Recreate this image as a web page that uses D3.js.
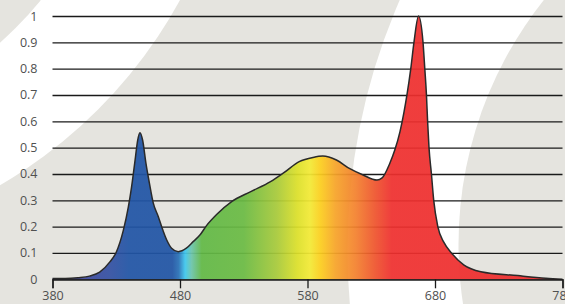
<!DOCTYPE html>
<html>
<head>
<meta charset="utf-8">
<script src="https://cdn.jsdelivr.net/npm/d3@7"></script>
<style>
  html, body { margin: 0; padding: 0; background: #e5e4df; }
  svg { display: block; }
</style>
</head>
<body>
<div id="chart"></div>
<script>
// spectrum (wavelength in nm, relative intensity)
var wavelengths = [380, 390, 400, 409, 417, 425, 430, 435.5, 439.5, 442, 444.7, 446.8, 448.6, 450.7,
  453.3, 456, 459, 463, 465.6, 469.5, 473.4, 478.6, 485, 490.3, 495.6, 500.8, 508.7, 520.5,
  535.5, 551, 561.5, 573.5, 584.4, 592, 602.7, 613.2, 623.6, 634.5, 638.5, 644.5, 648.4, 652.5,
  655.5, 658, 661, 663.5, 667.1, 670.6, 672, 673.3, 674.2, 675.3, 677.2, 679, 682.2, 687,
  692.9, 702.5, 716, 745, 767, 780];
var values = [0.003, 0.003, 0.006, 0.012, 0.027, 0.066, 0.103, 0.185, 0.275, 0.35, 0.45, 0.528, 0.557, 0.528,
  0.44, 0.365, 0.29, 0.238, 0.2, 0.15, 0.118, 0.105, 0.118, 0.143, 0.168, 0.204, 0.246, 0.295,
  0.333, 0.371, 0.405, 0.447, 0.463, 0.468, 0.453, 0.42, 0.396, 0.377, 0.385, 0.44, 0.49, 0.56,
  0.63, 0.70, 0.80, 0.90, 1.0, 0.9, 0.8, 0.7, 0.6, 0.5, 0.4, 0.3, 0.2, 0.14,
  0.1, 0.055, 0.029, 0.014, 0.004, 0.0];

var yTicks = [0, 0.1, 0.2, 0.3, 0.4, 0.5, 0.6, 0.7, 0.8, 0.9, 1];
var yTickLabels = ["0", "0.1", "0.2", "0.3", "0.4", "0.5", "0.6", "0.7", "0.8", "0.9", "1"];
var xTicks = [380, 480, 580, 680, 780];

// colour of the fill along the wavelength axis
var stopWavelengths = [395, 425, 440, 474, 479, 484, 489, 497, 530, 556, 572, 582, 590, 602, 618, 633, 646, 780];
var stopColors = ["#44449a", "#3451a3", "#2155a6", "#2155a5", "#2a72b8", "#3ec8f0", "#6cc5ac", "#62b946",
  "#6bbb44", "#a9cb3b", "#dde12a", "#f4eb36", "#fdd01f", "#f8a52a", "#f3802d", "#ee532c", "#ee2f2e", "#ee2d2e"];

var width = 565;
var height = 304;

var svg = d3.select("#chart")
  .append("svg")
  .attr("width", width)
  .attr("height", height);

// background with the white swooshes
svg.append("rect").attr("width", width).attr("height", height).attr("fill", "#e5e4df");
svg.append("circle").attr("cx", -243).attr("cy", -231).attr("r", 482).attr("fill", "#fff");
svg.append("circle").attr("cx", -243).attr("cy", -231).attr("r", 366).attr("fill", "#e5e4df");
svg.append("circle").attr("cx", 971.5).attr("cy", 250).attr("r", 624).attr("fill", "#fff");
svg.append("circle").attr("cx", 851.5).attr("cy", 244.5).attr("r", 393).attr("fill", "#e5e4df");

var x = d3.scaleLinear().domain([380, 780]).range([52.5, 562.5]);
var y = d3.scaleLinear().domain([0, 1]).range([279.3, 16]);

// gridlines + y labels
var yAxis = svg.append("g")
  .attr("transform", "translate(" + x(380) + ",0)")
  .call(d3.axisLeft(y)
    .tickValues(yTicks)
    .tickFormat(function (d, i) { return yTickLabels[i]; })
    .tickSize(-(x(780) - x(380)))
    .tickPadding(15));
yAxis.select(".domain").remove();
yAxis.selectAll("line").attr("stroke", "#1a1a1a").attr("stroke-width", 1.3);
yAxis.selectAll("text")
  .attr("fill", "#505050")
  .style("font-family", "'Open Sans', sans-serif")
  .style("font-size", "12.5px");

// gradient fill
var grad = svg.append("defs").append("linearGradient")
  .attr("id", "spectrum")
  .attr("gradientUnits", "userSpaceOnUse")
  .attr("x1", x(380)).attr("x2", x(780))
  .attr("y1", 0).attr("y2", 0);
grad.selectAll("stop")
  .data(stopWavelengths)
  .enter()
  .append("stop")
  .attr("offset", function (d) { return (d - 380) / 400; })
  .attr("stop-color", function (d, i) { return stopColors[i]; });

var pts = wavelengths.map(function (w, i) { return [w, values[i]]; });

var area = d3.area()
  .x(function (d) { return x(d[0]); })
  .y0(y(0))
  .y1(function (d) { return y(d[1]); })
  .curve(d3.curveMonotoneX);

var line = d3.line()
  .x(function (d) { return x(d[0]); })
  .y(function (d) { return y(d[1]); })
  .curve(d3.curveMonotoneX);

svg.append("path")
  .datum(pts)
  .attr("d", area)
  .attr("fill", "url(#spectrum)")
  .attr("fill-opacity", 0.93);

svg.append("path")
  .datum(pts)
  .attr("d", line)
  .attr("fill", "none")
  .attr("stroke", "#2a2a2a")
  .attr("stroke-width", 1.5);

// x axis
var xAxis = svg.append("g")
  .attr("transform", "translate(0," + y(0) + ")")
  .call(d3.axisBottom(x)
    .tickValues(xTicks)
    .tickSizeOuter(0)
    .tickSize(9)
    .tickPadding(3));
xAxis.select(".domain").attr("stroke", "#1a1a1a").attr("stroke-width", 1.3);
xAxis.selectAll("line").attr("stroke", "#1a1a1a").attr("stroke-width", 1.3);
xAxis.selectAll("text")
  .attr("fill", "#505050")
  .style("font-family", "'Open Sans', sans-serif")
  .style("font-size", "12.5px");
</script>
</body>
</html>
